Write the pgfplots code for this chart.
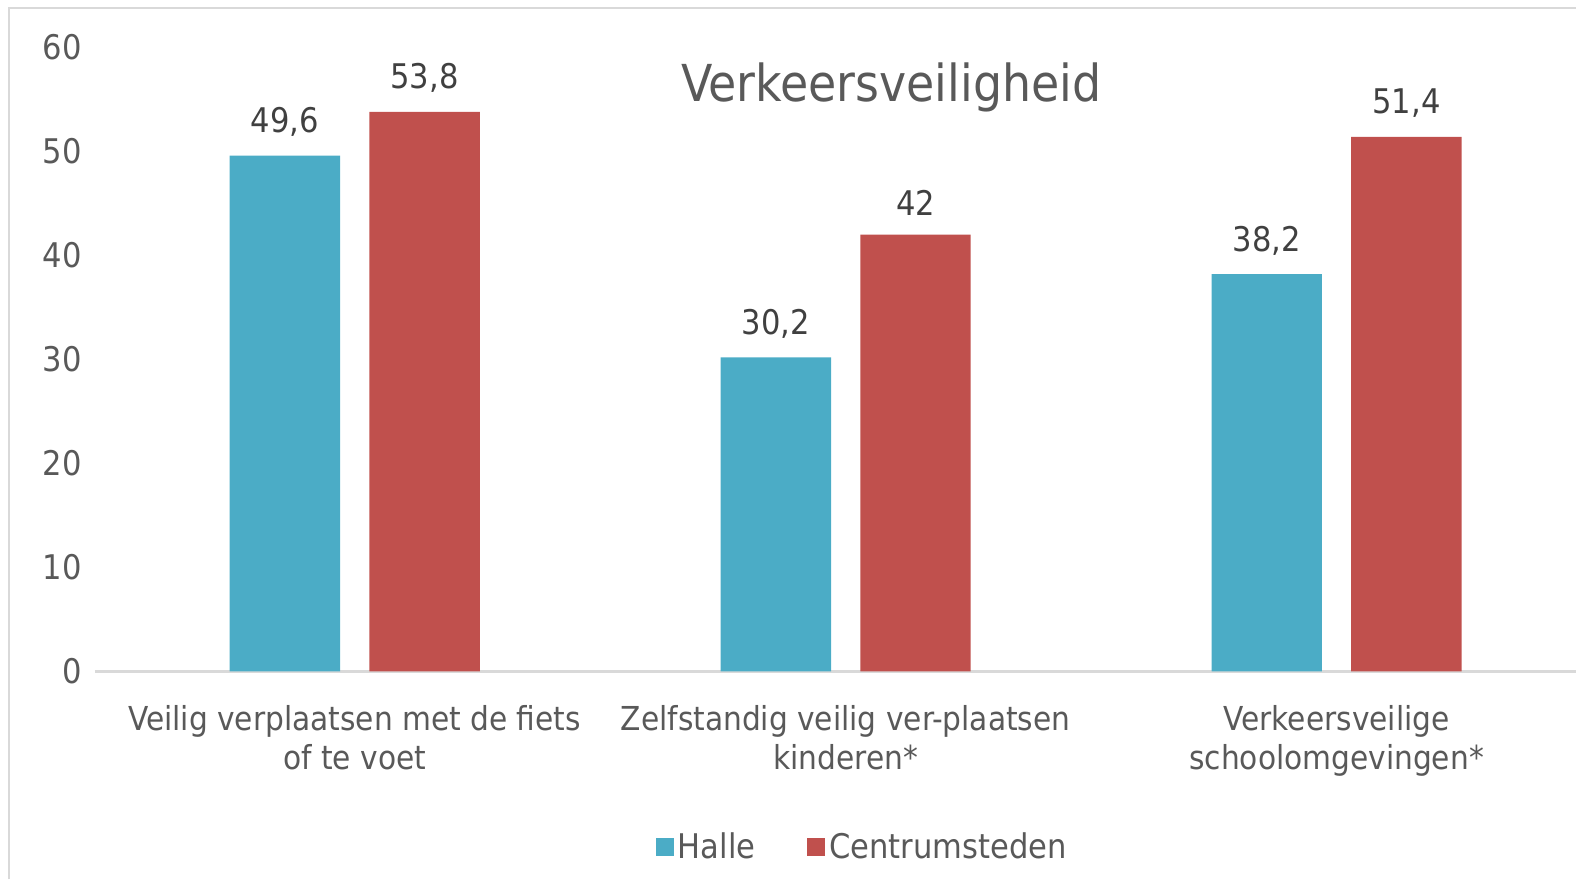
\documentclass[border=0pt]{standalone}
\usepackage{pgfplots}
\pgfplotsset{compat=1.18}
\usepackage{fontspec}
\setmainfont{DejaVu Sans Condensed}
\definecolor{halle}{HTML}{4BACC6}
\definecolor{centrum}{HTML}{C0504D}
\definecolor{txt}{HTML}{595959}
\definecolor{lbl}{HTML}{404040}
\definecolor{grid}{HTML}{D9D9D9}
\begin{document}
\begin{tikzpicture}[x=0.5pt,y=0.5pt]
\begin{axis}[
  at={(47.5pt,104pt)}, anchor=south west,
  scale only axis, width=741pt, height=312.25pt,
  xmin=-0.529, xmax=2.487, ymin=0, ymax=60,
  axis line style={draw=none},
  clip=false,
  ytick={0,10,...,60},
  xtick={0,1,2},
  xticklabels={Veilig verplaatsen met de fiets\\of te voet, Zelfstandig veilig ver-plaatsen\\kinderen*, Verkeersveilige\\schoolomgevingen*},
  tick style={draw=none},
  /pgf/number format/assume math mode=true,
  /pgf/number format/use comma,
  yticklabel style={font=\fontsize{17}{20}\selectfont, text=txt, anchor=east, xshift=-3pt},
  xticklabel style={font=\fontsize{16.5}{19.6}\selectfont, text=txt, align=center, anchor=north, yshift=-9pt},
  ybar, bar width=0.225,
  nodes near coords,
  every node near coord/.append style={font=\fontsize{17}{20}\selectfont, text=lbl, yshift=6pt},
  legend columns=2,
  legend style={at={(0.519,-0.282)}, anchor=center, draw=none, fill=none,
    font=\fontsize{17}{20}\selectfont, text=txt,
    /tikz/every even column/.append style={column sep=24pt}},
  legend image code/.code={\fill[#1, draw=none] (0pt,-4.5pt) rectangle (9pt,4.5pt);},
]
\draw[grid, line width=1.2pt] (axis cs:-0.529,0) -- (axis cs:2.487,0);
\addplot[fill=halle, draw=none, bar shift=-0.1423] coordinates {(0,49.6) (1,30.2) (2,38.2)};
\addplot[fill=centrum, draw=none, bar shift=0.1423] coordinates {(0,53.8) (1,42) (2,51.4)};
\legend{Halle, Centrumsteden}
\node[font=\fontsize{25.5}{30}\selectfont, text=txt, anchor=base] at (axis cs:1.093,54.8) {Verkeersveiligheid};
\end{axis}
\pgfresetboundingbox
\draw[grid, line width=1.3pt] (9,0) -- (9,872) -- (1577,872);
\useasboundingbox (0,0) rectangle (1577,880);
\end{tikzpicture}
\end{document}
